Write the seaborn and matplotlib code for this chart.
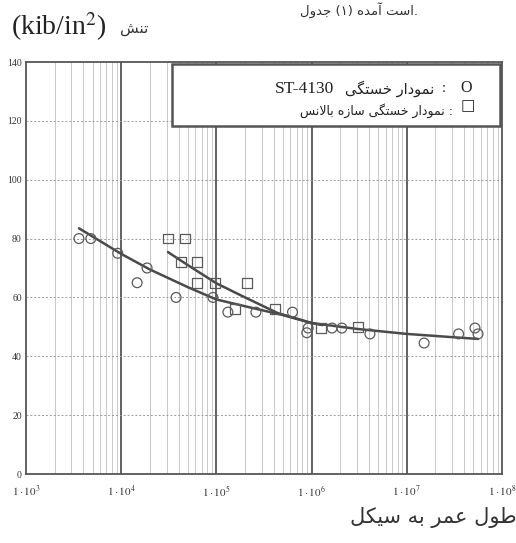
import numpy as np
import pandas as pd
import matplotlib
matplotlib.use("Agg")
import matplotlib.pyplot as plt
from matplotlib.patches import Rectangle
import seaborn as sns

# ---------------- data ----------------
circle_cycles = [3.6e3, 4.8e3, 9.2e3, 1.47e4, 1.87e4, 3.77e4, 9.2e4, 1.32e5, 2.6e5,
                 6.3e5, 9.2e5, 8.9e5, 1.64e6, 2.08e6, 4.1e6, 1.52e7, 3.5e7, 5.2e7, 5.6e7]
circle_stress = [80, 80, 75, 65, 70, 60, 60, 55, 55,
                 55, 49.6, 48, 49.6, 49.6, 47.6, 44.5, 47.6, 49.6, 47.6]

square_cycles = [3.1e4, 4.7e4, 4.25e4, 6.25e4, 6.25e4, 9.7e4, 2.1e5, 1.57e5, 4.1e5, 1.26e6, 3.07e6]
square_stress = [80, 80, 72, 72, 65, 65, 65, 56, 56, 49.6, 50]

circle_fit_cycles = [3.6e3, 1e4, 2e4, 5e4, 1e5, 2e5, 5e5, 1e6, 3e6, 1e7, 3e7, 5.6e7]
circle_fit_stress = [83.5, 74.8, 69.5, 63.5, 59.3, 57.0, 54.0, 51.3, 49.3, 47.6, 46.5, 45.9]

square_fit_cycles = [3.1e4, 5e4, 1e5, 2e5, 4.4e5, 1e6, 1.3e6]
square_fit_stress = [75.4, 71.0, 64.8, 60.0, 54.7, 51.3, 50.6]

y_ticks = [0, 20, 40, 60, 80, 100, 120, 140]
x_decades = [3, 4, 5, 6, 7, 8]
x_tick_labels = [r"$1\cdot10^{%d}$" % d for d in x_decades]

# Persian texts (presentation forms, visual order)
ylabel_fa = "\uFEB6\uFEE8\uFE97"                                   # تنش
w_nemodar = "\uFEAD\uFE8D\uFEA9\uFEEE\uFEE4\uFEE7"                  # نمودار
w_khastegi = "\uFEF0\uFB95\uFE98\uFEB4\uFEA7"                       # خستگی
w_saze = "\uFEE9\uFEAF\uFE8E\uFEB3"                                 # سازه
w_balans = "\uFEB2\uFEE7\uFEFB\uFE8E\uFE91"                         # بالانس
legend1_fa = w_khastegi + " " + w_nemodar
legend2_fa = w_balans + " " + w_saze + " " + w_khastegi + " " + w_nemodar + " :"
xlabel_fa = ("\uFEDE\uFB91\uFEF4\uFEB3 \uFEEA\uFE91 "
             "\uFEAE\uFEE4\uFECB \uFEDD\uFEEE\uFEC3")                # طول عمر به سیکل
top_fa = ("\uFEDD\uFEED\uFEAA\uFE9F (\u06F1) "
          "\uFEE9\uFEAA\uFEE3\uFE81 \uFE96\uFEB3\uFE8D.")             # جدول (۱) آمده است.

# ---------------- figure ----------------
sns.set_theme(style="white")
plt.rcParams["font.family"] = ["Liberation Serif", "DejaVu Sans"]
plt.rcParams["mathtext.fontset"] = "stix"

W, H = 516, 543
fig = plt.figure(figsize=(W / 100, H / 100), dpi=100)
fig.patch.set_facecolor("white")

def px(x, y):
    return x / W, 1 - y / H

L, R, T, B = 26, 502, 62, 474
ax = fig.add_axes([L / W, 1 - B / H, (R - L) / W, (B - T) / H])
ax.set_xscale("log")
ax.set_xlim(1e3, 1e8)
ax.set_ylim(0, 140)

# grid
for d in range(3, 8):
    for m in range(2, 10):
        ax.axvline(m * 10 ** d, color="#c8c8c8", lw=0.7, zorder=0)
for d in x_decades[1:-1]:
    ax.axvline(10 ** d, color="#555555", lw=1.3, zorder=0)
for yv in y_ticks[1:-1]:
    ax.axhline(yv, color="#9a9a9a", lw=0.7, ls=(0, (2, 2)), zorder=0)

line_col = "#4a4a4a"
sns.lineplot(x=circle_fit_cycles, y=circle_fit_stress, ax=ax, color=line_col,
             lw=1.8, sort=False, estimator=None, zorder=3)
sns.lineplot(x=square_fit_cycles, y=square_fit_stress, ax=ax, color=line_col,
             lw=1.8, sort=False, estimator=None, zorder=3)

sns.scatterplot(x=circle_cycles, y=circle_stress, ax=ax, marker="o", s=50,
                facecolors="none", edgecolor="#5a5a5a", linewidth=0.9, zorder=4)
sns.scatterplot(x=square_cycles, y=square_stress, ax=ax, marker="s", s=50,
                facecolors="none", edgecolor="#5a5a5a", linewidth=0.9, zorder=4)

ax.set_yticks(y_ticks)
ax.set_yticklabels([str(v) for v in y_ticks], fontsize=7, color="#333333")
ax.set_xticks([10 ** d for d in x_decades])
ax.set_xticklabels(x_tick_labels, fontsize=8, color="#333333")
ax.xaxis.set_minor_locator(matplotlib.ticker.NullLocator())
ax.tick_params(axis="both", length=0)
ax.tick_params(axis="y", pad=3)
ax.tick_params(axis="x", pad=7)
for s in ax.spines.values():
    s.set_color("#555555")
    s.set_linewidth(1.3)
ax.set_xlabel("")
ax.set_ylabel("")

# legend box
x0, y0 = px(172, 126)
x1, y1 = px(500, 64)
fig.patches.append(Rectangle((x0, y0), x1 - x0, y1 - y0, transform=fig.transFigure,
                             facecolor="white", edgecolor="#555555", lw=1.8, zorder=5))
fig.text(*px(472, 88), "O", ha="right", va="center", fontsize=11.5,
         family="Liberation Serif", color="#222222", zorder=6)
fig.text(*px(446, 89), ":", ha="right", va="center", fontsize=10.5,
         family="Liberation Serif", color="#222222", zorder=6)
fig.text(*px(434, 89), legend1_fa, ha="right", va="center", fontsize=10.5,
         family="DejaVu Sans", color="#222222", zorder=6)
fig.text(*px(334, 89), "ST-4130", ha="right", va="center", fontsize=12.5,
         family="Liberation Serif", color="#222222", zorder=6)
fig.text(*px(475, 106), "\u25A1", ha="right", va="center", fontsize=11,
         family="DejaVu Sans", color="#222222", zorder=6)
fig.text(*px(453, 111), legend2_fa, ha="right", va="center", fontsize=9,
         family="DejaVu Sans", color="#222222", zorder=6)

# titles / labels
fig.text(*px(11, 27), r"(kib/in$^{2}$)", ha="left", va="center", fontsize=20,
         family="Liberation Serif", color="#222222")
fig.text(*px(120, 29), ylabel_fa, ha="left", va="center", fontsize=11,
         family="DejaVu Sans", color="#333333")
fig.text(*px(350, 518), xlabel_fa, ha="left", va="center", fontsize=15,
         family="DejaVu Sans", color="#333333")
fig.text(*px(418, 15), top_fa, ha="right", va="baseline", fontsize=9.5,
         family="DejaVu Sans", color="#333333")

fig.savefig("out.png", dpi=100)
